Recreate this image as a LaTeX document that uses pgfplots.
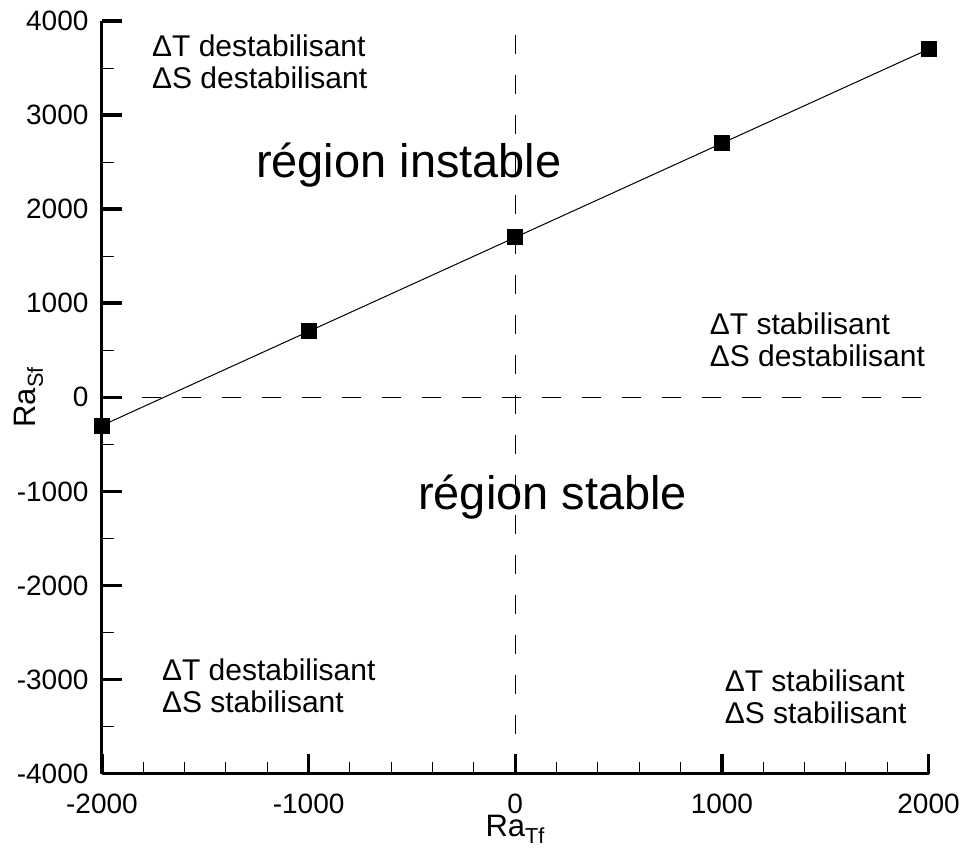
\documentclass[border=0pt]{standalone}
\usepackage{pgfplots}
\pgfplotsset{compat=1.18}
\usepackage{fontspec}
\setmainfont{Liberation Sans}
\begin{document}
\begin{tikzpicture}
\begin{axis}[
  scale only axis,
  width=827pt, height=753pt,
  xmin=-2000, xmax=2000, ymin=-4000, ymax=4000,
  axis x line*=bottom, axis y line*=left,
  x axis line style={line width=3pt, black, -},
  y axis line style={line width=3pt, black, -},
  xtick={-2000,-1000,...,2000}, ytick={-4000,-3000,...,4000},
  tick align=inside,
  major tick length=20pt,
  xtick style={line width=3.5pt, black},
  ytick style={line width=3.5pt, black},
  % thin minor ticks as extra ticks without labels
  extra x ticks={-1800,-1600,-1400,-1200,-800,-600,-400,-200,200,400,600,800,1200,1400,1600,1800},
  extra x tick labels={},
  extra x tick style={xtick style={line width=1pt, black}, major tick length=12pt},
  extra y ticks={-3500,-2500,-1500,-500,500,1500,2500,3500},
  extra y tick labels={},
  extra y tick style={ytick style={line width=1pt, black}, major tick length=12pt},
  /pgf/number format/assume math mode=true,
  /pgf/number format/1000 sep={},
  ticklabel style={font=\fontsize{28}{30}\selectfont},
  xticklabel style={yshift=-17pt},
  yticklabel style={xshift=-10pt},
  xlabel={Ra\textsubscript{Tf}}, ylabel={Ra\textsubscript{Sf}},
  label style={font=\fontsize{31}{33}\selectfont},
  xlabel style={yshift=6pt},
  ylabel style={yshift=-33pt},
  clip=false,
]
\addplot[black, line width=1pt, dash pattern=on 19pt off 21pt] coordinates {(-2000,0) (2000,0)};
\addplot[black, line width=1pt, dash pattern=on 19pt off 21pt] coordinates {(0,-4000) (0,4000)};
\addplot[black, line width=1pt, mark=square*, mark size=7.5pt, mark options={solid}] coordinates {
  (-2000,-300) (-1000,700) (0,1700) (1000,2700) (2000,3700)};
\begin{scope}[every node/.style={font=\fontsize{30}{32}\selectfont, align=left, inner sep=0pt}]
\node[anchor=west] at (axis cs:-1758,3565) {ΔT destabilisant\\ΔS destabilisant};
\node[anchor=west] at (axis cs:941,611) {ΔT stabilisant\\ΔS destabilisant};
\node[anchor=west] at (axis cs:-1710,-3065) {ΔT destabilisant\\ΔS stabilisant};
\node[anchor=west] at (axis cs:1013,-3182) {ΔT stabilisant\\ΔS stabilisant};
\end{scope}
\node[font=\fontsize{47}{50}\selectfont, inner sep=0pt] at (axis cs:-515,2470) {région instable};
\node[font=\fontsize{47}{50}\selectfont, inner sep=0pt] at (axis cs:181,-1057) {région stable};
\end{axis}
\path ([shift={(-102pt,-74pt)}]current axis.south west) rectangle ([shift={(34pt,21pt)}]current axis.north east);
\end{tikzpicture}
\end{document}
